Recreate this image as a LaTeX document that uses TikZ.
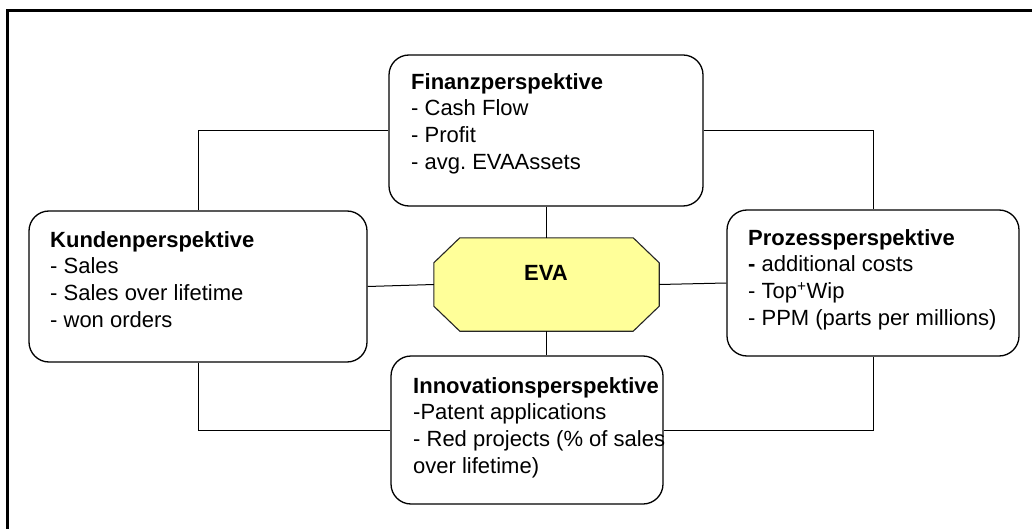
\documentclass[tikz,border=0pt]{standalone}
\usepackage{fontspec}
\setmainfont{Liberation Sans}
\usetikzlibrary{calc}
\frenchspacing
\definecolor{evayellow}{HTML}{FFFF99}
\tikzset{
  perspbox/.style={draw=black, line width=1.3pt, rounded corners=20pt, inner sep=0pt},
  persptext/.style={anchor=north west, inner sep=0pt, align=left, font=\fontsize{22}{26.7}\selectfont},
  conn/.style={draw=black, line width=1pt},
  frameline/.style={draw=black, line width=2.2pt},
  evatext/.style={inner sep=0pt, font=\fontsize{22}{26.7}\selectfont\bfseries}
}
\newcommand{\firstline}{\rule{0pt}{16pt}}
\begin{document}
\begin{tikzpicture}[x=1pt, y=-1pt]
\useasboundingbox (0,0) rectangle (1032,529);
% outer frame (top and left visible)
\draw[frameline] (7.5,529) -- (7.5,10.5) -- (1032,10.5);

% boxes
\node[perspbox, minimum width=314pt, minimum height=151pt] (fin) at (546,130.5) {};
\node[perspbox, minimum width=338pt, minimum height=151pt] (kun) at (198,286.5) {};
\node[perspbox, minimum width=292pt, minimum height=146pt] (pro) at (873,283) {};
\node[perspbox, minimum width=272pt, minimum height=148pt] (inn) at (527,430) {};

% EVA octagon
\node[inner sep=0pt, minimum width=225pt, minimum height=93pt] (eva) at (546.5,284.5) {};
\draw[fill=evayellow, draw=black!85, line width=1.1pt]
  ($(eva.north west)+(26,0)$) -- ($(eva.north east)+(-26,0)$) -- ($(eva.north east)+(0,25)$)
  -- ($(eva.south east)+(0,-25)$) -- ($(eva.south east)+(-26,0)$) -- ($(eva.south west)+(26,0)$)
  -- ($(eva.south west)+(0,-25)$) -- ($(eva.north west)+(0,25)$) -- cycle;
\node[evatext, anchor=base] (evat) at (546,280) {EVA};

% texts
\node[persptext] (fint) at (411,73) {\firstline\textbf{Finanzperspektive}\\- Cash Flow\\- Profit\\- avg. EVAAssets};
\node[persptext] (kunt) at (50,231) {\firstline\textbf{Kundenperspektive}\\- Sales\\- Sales over lifetime\\- won orders};
\node[persptext] (prot) at (748,229) {\firstline\textbf{Prozessperspektive}\\\textbf{-} additional costs\\- Top\textsuperscript{+}Wip\\- PPM (parts per millions)};
\node[persptext] (innt) at (413,377) {\firstline\textbf{Innovationsperspektive}\\-Patent applications\\- Red projects (\% of sales\\over lifetime)};

% connectors to EVA
\draw[conn] (fin.south) -- (fin.south |- eva.north);
\draw[conn] (kun.east) -- (eva.west);
\draw[conn] (eva.east) -- (pro.west);
\draw[conn] (eva.south) -- (eva.south |- inn.north);

% outer loop
\draw[conn] (kun.north) |- (fin.west);
\draw[conn] (fin.east) -| (pro.north);
\draw[conn] (kun.south) |- (inn.west);
\draw[conn] (inn.east) -| (pro.south);
\end{tikzpicture}
\end{document}
